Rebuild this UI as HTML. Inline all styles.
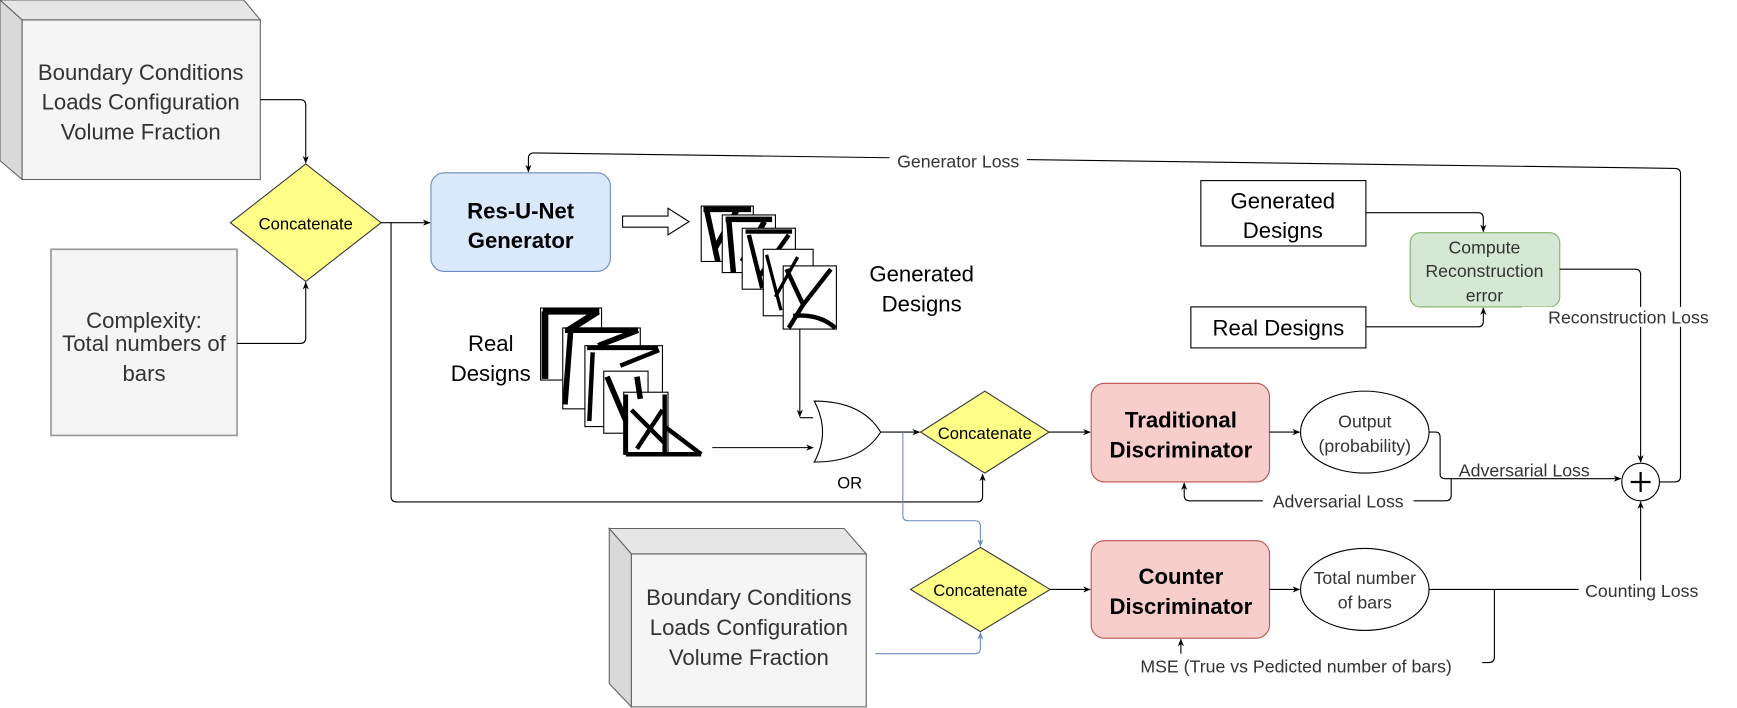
<!DOCTYPE html>
<html><head><meta charset="utf-8"><style>
html,body{margin:0;padding:0;background:#fff;}
svg{display:block;}
text{font-family:"Liberation Sans",sans-serif;}
</style></head><body>
<svg width="1737" height="708" viewBox="0 0 1568 639" preserveAspectRatio="none" xmlns="http://www.w3.org/2000/svg">
<defs>
<marker id="a" viewBox="0 0 10 10" refX="9" refY="5" markerWidth="7" markerHeight="7" orient="auto"><path d="M0,1 L10,5 L0,9 L3,5 z" fill="#000"/></marker>
<marker id="b" viewBox="0 0 10 10" refX="9" refY="5" markerWidth="7" markerHeight="7" orient="auto"><path d="M0,1 L10,5 L0,9 L3,5 z" fill="#6c8ebf"/></marker>
</defs>
<rect width="1568" height="639" fill="#fff"/>
<g fill="none" stroke="#000" stroke-width="1">
<polygon points="0,0 220,0 235,18 20,18" fill="#e6e6e6" stroke="#666"/>
<polygon points="0,0 20,18 20,162 0,145" fill="#d9d9d9" stroke="#666"/>
<rect x="20" y="18" width="215" height="144" fill="#f5f5f5" stroke="#666"/>
<rect x="46" y="225" width="168" height="168" fill="#f5f5f5" stroke="#999" stroke-width="1.5"/>
<polygon points="550,477 762,477 782,500 570,500" fill="#e6e6e6" stroke="#666"/>
<polygon points="550,477 570,500 570,638 550,617" fill="#d9d9d9" stroke="#666"/>
<rect x="570" y="500" width="212" height="138" fill="#f5f5f5" stroke="#666"/>
<polygon points="208,201 276,148 344,201 276,254" fill="#ffff88" stroke="#36393d"/>
<polygon points="831,390 889,353 947,390 889,427" fill="#ffff88" stroke="#36393d"/>
<polygon points="822,532 885,494 948,532 885,570" fill="#ffff88" stroke="#36393d"/>
<rect x="389" y="156" width="162" height="89" rx="12" fill="#dae8fc" stroke="#6c8ebf"/>
<rect x="985" y="346" width="161" height="89" rx="12" fill="#f8cecc" stroke="#b85450"/>
<rect x="985" y="488" width="161" height="88" rx="12" fill="#f8cecc" stroke="#b85450"/>
<rect x="1273" y="210" width="135" height="67" rx="9" fill="#d5e8d4" stroke="#82b366"/>
<rect x="1084" y="163" width="149" height="59" fill="#fff"/>
<rect x="1075" y="277" width="158" height="37" fill="#fff"/>
<ellipse cx="1232" cy="390" rx="58" ry="37" fill="#fff"/>
<ellipse cx="1232" cy="532" rx="58" ry="37" fill="#fff"/>
<circle cx="1481" cy="435" r="17" fill="#fff"/>
<path d="M1472,435 H1490 M1481,426 V444" stroke-width="2"/>
<polygon points="562,195 603,195 603,188 622,200 603,212 603,205 562,205" fill="#fff"/>
<path d="M735,362 Q778,362 795,390 Q778,417 735,417 Q750,390 735,362 z" fill="#fff"/>
<path d="M235,90 H271 Q276,90 276,95 V147" marker-end="url(#a)"/>
<path d="M214,310 H271 Q276,310 276,305 V255" marker-end="url(#a)"/>
<path d="M344,201 H388" marker-end="url(#a)"/>
<path d="M353,201 V448 Q353,453 358,453 H882 Q887,453 887,448 V428" marker-end="url(#a)"/>
<path d="M722,297 V376" marker-end="url(#a)"/>
<path d="M722,377 H734"/>
<path d="M643,404 H734" marker-end="url(#a)"/>
<path d="M795,390 H830" marker-end="url(#a)"/>
<path d="M815,390 V465 Q815,470 820,470 H880 Q885,470 885,475 V493" stroke="#6c8ebf" marker-end="url(#b)"/>
<path d="M790,590 H880 Q885,590 885,585 V571" stroke="#6c8ebf" marker-end="url(#b)"/>
<path d="M947,390 H984" marker-end="url(#a)"/>
<path d="M948,532 H984" marker-end="url(#a)"/>
<path d="M1146,390 H1173" marker-end="url(#a)"/>
<path d="M1146,532 H1173" marker-end="url(#a)"/>
<path d="M1290,390 H1296 Q1300,390 1300,395 V428 Q1300,432 1305,432 H1463" marker-end="url(#a)"/>
<path d="M1310,432 V447 Q1310,452 1305,452 H1074 Q1069,452 1069,447 V436" marker-end="url(#a)"/>
<path d="M1290,532 H1481 V453" marker-end="url(#a)"/>
<path d="M1349,532 V593 Q1349,598 1344,598 H1338"/>
<path d="M1066,590 V577" marker-end="url(#a)"/>
<path d="M1233,192 H1334 Q1339,192 1339,197 V209" marker-end="url(#a)"/>
<path d="M1233,295 H1334 Q1339,295 1339,290 V278" marker-end="url(#a)"/>
<path d="M1408,243 H1476 Q1481,243 1481,248 V417" marker-end="url(#a)"/>
<path d="M1498,435 H1512 Q1517,435 1517,430 V157 Q1517,152 1512,152 L482,138 Q477,138 477,143 V155" marker-end="url(#a)"/>
<g stroke="#000">
<rect x="633" y="186" width="47" height="50" fill="#fff"/>
<path d="M635,189 H678 M638,190 L648,236 M665,190 L645,225" stroke-width="5"/>
<rect x="652" y="194" width="48" height="52" fill="#fff"/>
<path d="M655,198 H697 M658,200 L662,246 M690,200 L670,236" stroke-width="5"/>
<rect x="670" y="206" width="48" height="55" fill="#fff"/>
<path d="M673,209 L715,209 M676,212 L688,260 M712,212 L685,250" stroke-width="4"/>
<rect x="689" y="225" width="45" height="60" fill="#fff"/>
<rect x="707" y="240" width="48" height="57" fill="#fff"/>
<path d="M710,243 L725,275 L750,243 M725,275 L712,296 M716,285 Q740,283 754,296" stroke-width="4"/>
<path d="M692,230 L705,280 M720,232 L700,268" stroke-width="3"/>
</g>
<g stroke="#000">
<rect x="488" y="278" width="55" height="65" fill="#fff"/>
<path d="M490,281 H541 M492,281 L492,342 M510,300 L540,281" stroke-width="6"/>
<rect x="508" y="296" width="70" height="73" fill="#fff"/>
<path d="M510,298 H576 M515,300 L510,365 M540,312 L576,298" stroke-width="5"/>
<rect x="528" y="312" width="70" height="73" fill="#fff"/>
<path d="M530,314 L594,314 M535,318 L532,380 M560,330 L595,316" stroke-width="4"/>
<rect x="545" y="335" width="40" height="56" fill="#fff"/>
<rect x="563" y="354" width="40" height="56" fill="#fff"/>
<path d="M565,356 L565,410 M600,356 L600,410 M565,410 H633 M570,370 L600,400 M598,370 L575,405 M600,385 L633,410" stroke-width="4"/>
<path d="M548,340 L565,380 M575,340 L578,360" stroke-width="5"/>
</g>
</g>
<rect x="803" y="136" width="124" height="18" fill="#fff"/>
<rect x="1140" y="443" width="136" height="18" fill="#fff"/>
<rect x="1374" y="277" width="190" height="18" fill="#fff"/>
<rect x="1425" y="524" width="116" height="18" fill="#fff"/>
<g font-size="20" fill="#333" text-anchor="middle">
<text x="127" y="72">Boundary Conditions</text>
<text x="127" y="99">Loads Configuration</text>
<text x="127" y="126">Volume Fraction</text>
<text x="130" y="296">Complexity:</text>
<text x="130" y="317">Total numbers of</text>
<text x="130" y="344">bars</text>
<text x="676" y="546">Boundary Conditions</text>
<text x="676" y="573">Loads Configuration</text>
<text x="676" y="600">Volume Fraction</text>
</g>
<g font-size="20" fill="#000" text-anchor="middle">
<text x="832" y="254">Generated</text>
<text x="832" y="281">Designs</text>
<text x="443" y="317">Real</text>
<text x="443" y="344">Designs</text>
<text x="1158" y="188">Generated</text>
<text x="1158" y="215">Designs</text>
<text x="1154" y="303">Real Designs</text>
</g>
<g font-size="20" font-weight="bold" text-anchor="middle" fill="#000">
<text x="470" y="197">Res-U-Net</text>
<text x="470" y="224">Generator</text>
<text x="1066" y="386">Traditional</text>
<text x="1066" y="413">Discriminator</text>
<text x="1066" y="527">Counter</text>
<text x="1066" y="554">Discriminator</text>
</g>
<g font-size="15" text-anchor="middle" fill="#000">
<text x="276" y="207">Concatenate</text>
<text x="889" y="396">Concatenate</text>
<text x="885" y="538">Concatenate</text>
<text x="767" y="441">OR</text>
</g>
<g font-size="16" text-anchor="middle" fill="#333">
<text x="1232" y="386">Output</text>
<text x="1232" y="408">(probability)</text>
<text x="1232" y="527">Total number</text>
<text x="1232" y="549">of bars</text>
<text x="1340" y="229">Compute</text>
<text x="1340" y="250">Reconstruction</text>
<text x="1340" y="272">error</text>
<text x="865" y="151">Generator Loss</text>
<text x="1376" y="430">Adversarial Loss</text>
<text x="1208" y="458">Adversarial Loss</text>
<text x="1470" y="292">Reconstruction Loss</text>
<text x="1482" y="539">Counting Loss</text>
<text x="1170" y="607">MSE  (True vs Pedicted number of bars)</text>
</g>
</svg>
</body></html>
